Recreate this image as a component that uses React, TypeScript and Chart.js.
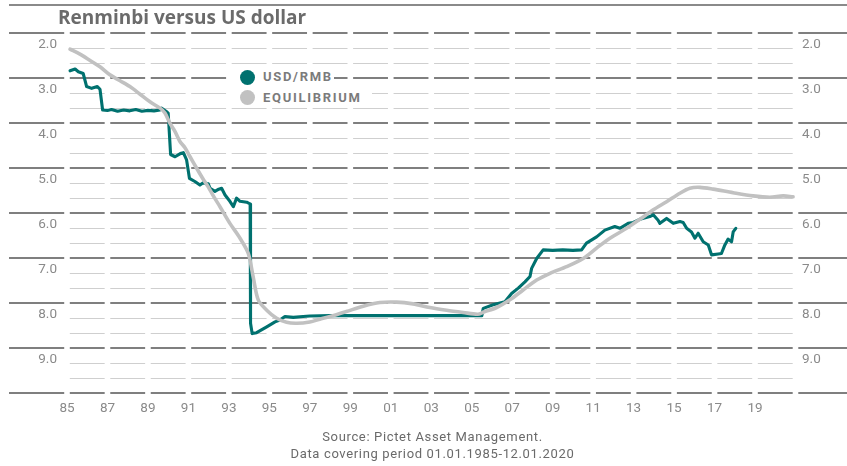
import React, { useEffect, useRef } from "react";
import { Chart, registerables } from "chart.js";

Chart.register(...registerables);

// ---------------- data ----------------
const titleText = "Renminbi versus US dollar";
const seriesNames = ["USD/RMB", "EQUILIBRIUM"];
const sourceLines = [
  "Source: Pictet Asset Management.",
  "Data covering period 01.01.1985-12.01.2020",
];

const xTickYears = [
  1985, 1987, 1989, 1991, 1993, 1995, 1997, 1999, 2001, 2003, 2005, 2007, 2009,
  2011, 2013, 2015, 2017, 2019, 2021,
];
const yTickValues = [2, 3, 4, 5, 6, 7, 8, 9, 10];

const usdRmbYears = [
  1985.15, 1985.4, 1985.56, 1985.8, 1985.97, 1986.22, 1986.5, 1986.63, 1986.76,
  1987.0, 1987.2, 1987.5, 1987.8, 1988.1, 1988.4, 1988.7, 1989.0, 1989.3,
  1989.6, 1989.68, 1989.93, 1990.0, 1990.12, 1990.34, 1990.6, 1990.75, 1990.91,
  1991.05, 1991.32, 1991.57, 1991.73, 1991.98, 1992.07, 1992.31, 1992.5,
  1992.64, 1992.81, 1993.05, 1993.22, 1993.38, 1993.55, 1993.88, 1994.05,
  1994.07, 1994.15, 1994.37, 1994.87, 1995.28, 1995.52, 1995.77, 1996.18,
  1996.67, 1997.0, 1998.0, 1999.0, 2000.0, 2001.0, 2002.0, 2003.0, 2004.0,
  2005.0, 2005.5, 2005.57, 2006.06, 2006.64, 2006.97, 2007.3, 2007.63, 2007.88,
  2007.96, 2008.21, 2008.53, 2009.0, 2009.5, 2010.0, 2010.43, 2010.67, 2011.17,
  2011.58, 2012.07, 2012.32, 2012.73, 2012.98, 2013.31, 2013.8, 2013.97,
  2014.21, 2014.3, 2014.63, 2014.96, 2015.29, 2015.45, 2015.62, 2015.86,
  2016.03, 2016.19, 2016.44, 2016.69, 2016.85, 2017.18, 2017.34, 2017.51,
  2017.67, 2017.84, 2017.92, 2018.05,
];
const usdRmbValues = [
  2.84, 2.8, 2.86, 2.9, 3.19, 3.23, 3.19, 3.25, 3.71,
  3.72, 3.7, 3.74, 3.71, 3.73, 3.7, 3.74, 3.72, 3.73,
  3.71, 3.67, 3.75, 3.78, 4.7, 4.75, 4.68, 4.66, 4.82,
  5.23, 5.3, 5.38, 5.33, 5.35, 5.45, 5.52, 5.47,
  5.45, 5.6, 5.74, 5.86, 5.67, 5.74, 5.76, 5.8,
  8.45, 8.68, 8.66, 8.53, 8.42, 8.38, 8.3, 8.32,
  8.3, 8.29, 8.28, 8.28, 8.28, 8.28, 8.28, 8.28, 8.28,
  8.28, 8.28, 8.12, 8.04, 7.97, 7.79, 7.67, 7.53, 7.41,
  7.23, 7.01, 6.82, 6.83, 6.82, 6.83, 6.82, 6.67, 6.53,
  6.38, 6.3, 6.34, 6.23, 6.21, 6.14, 6.08, 6.04,
  6.16, 6.23, 6.12, 6.23, 6.19, 6.21, 6.34, 6.42,
  6.56, 6.45, 6.64, 6.71, 6.93, 6.91, 6.9, 6.71,
  6.58, 6.64, 6.42, 6.34,
];

const equilibriumYears = [
  1985.15, 1985.64, 1986.14, 1986.63, 1987.12, 1987.62, 1988.11, 1988.61,
  1989.1, 1989.6, 1989.84, 1990.09, 1990.34, 1990.58, 1990.83, 1991.08, 1991.4,
  1991.73, 1991.98, 1992.23, 1992.56, 1993.05, 1993.55, 1993.96, 1994.2,
  1994.45, 1994.87, 1995.36, 1995.85, 1996.35, 1997.0, 1997.5, 1998.0, 1998.8,
  1999.64, 2000.46, 2001.29, 2002.1, 2002.93, 2003.76, 2004.58, 2005.3, 2005.6,
  2006.23, 2006.89, 2007.54, 2008.21, 2008.87, 2009.69, 2010.51, 2011.17,
  2011.83, 2012.65, 2013.31, 2013.97, 2014.63, 2015.29, 2015.78, 2016.28,
  2016.93, 2017.92, 2018.9, 2019.73, 2020.39, 2020.88,
];
const equilibriumValues = [
  2.36, 2.47, 2.61, 2.75, 2.93, 3.06, 3.19, 3.36,
  3.53, 3.67, 3.78, 4.01, 4.19, 4.41, 4.55, 4.75, 5.0,
  5.25, 5.42, 5.62, 5.86, 6.23, 6.56, 6.9, 7.42,
  7.93, 8.16, 8.34, 8.43, 8.45, 8.42, 8.36, 8.3, 8.19,
  8.07, 7.99, 7.98, 8.02, 8.1, 8.16, 8.21, 8.25, 8.2,
  8.1, 7.93, 7.71, 7.49, 7.34, 7.19, 7.01, 6.78,
  6.56, 6.34, 6.14, 5.93, 5.75, 5.56, 5.45, 5.43,
  5.47, 5.55, 5.62, 5.65, 5.62, 5.64,
];

// ---------------- styles ----------------
const TEAL = "#00716f";
const GREY = "#c1c1c1";
const LABEL = "#8a8a8a";
const W = 847;
const H = 466;

const gridPlugin = {
  id: "segmentedGrid",
  beforeDatasetsDraw(chart: any) {
    const { ctx, scales } = chart;
    const xs = scales.x;
    const ys = scales.y;
    const tickPx = xTickYears.map((t) => xs.getPixelForValue(t));
    const gap = 2.8;
    ctx.save();
    // top frame rule
    ctx.strokeStyle = "#8a8a8a";
    ctx.lineWidth = 2;
    ctx.beginPath();
    ctx.moveTo(9, 5);
    ctx.lineTo(chart.width, 5);
    ctx.stroke();
    const vMin = yTickValues[0];
    const vMax = yTickValues[yTickValues.length - 1];
    const steps = Math.round((vMax - vMin) * 3);
    for (let k = 0; k <= steps; k++) {
      const v = vMin + k / 3;
      const major = k % 3 === 0;
      const y = ys.getPixelForValue(v);
      const yy = major ? Math.round(y) : Math.round(y) + 0.5;
      ctx.strokeStyle = major ? "#7f7f7f" : "#cfcfcf";
      ctx.lineWidth = major ? 2 : 1;
      ctx.beginPath();
      for (let i = 0; i < tickPx.length - 1; i++) {
        ctx.moveTo(tickPx[i] + gap, yy);
        ctx.lineTo(tickPx[i + 1] - gap, yy);
      }
      if (major) {
        ctx.moveTo(9, yy);
        ctx.lineTo(tickPx[0] - gap, yy);
        ctx.moveTo(tickPx[tickPx.length - 1] + gap, yy);
        ctx.lineTo(chart.width, yy);
      }
      ctx.stroke();
    }
    ctx.restore();
  },
};

const tickFont = { family: "Roboto, 'Open Sans', sans-serif", size: 13.5 };

function makeYAxis(position: "left" | "right", width: number, padding: number) {
  return {
    type: "linear" as const,
    position,
    reverse: true,
    min: yTickValues[0],
    max: yTickValues[yTickValues.length - 1],
    grid: { display: false, drawTicks: false },
    border: { display: false },
    afterBuildTicks: (s: any) => {
      s.ticks = yTickValues.map((v) => ({ value: v }));
    },
    afterFit: (s: any) => {
      s.width = width;
    },
    ticks: {
      padding,
      labelOffset: 12,
      color: LABEL,
      font: tickFont,
      autoSkip: false,
      callback: (v: any) =>
        Number(v) === yTickValues[yTickValues.length - 1] ? "" : Number(v).toFixed(1),
    },
  };
}

export default function App() {
  const canvasRef = useRef<HTMLCanvasElement | null>(null);

  useEffect(() => {
    if (!canvasRef.current) return;
    const chart = new Chart(canvasRef.current, {
      type: "line",
      data: {
        datasets: [
          {
            label: seriesNames[0],
            data: usdRmbYears.map((x, i) => ({ x, y: usdRmbValues[i] })),
            borderColor: TEAL,
            backgroundColor: TEAL,
            borderWidth: 3.1,
            pointRadius: 0,
            tension: 0,
            borderJoinStyle: "round",
            borderCapStyle: "round",
            order: 1,
          },
          {
            label: seriesNames[1],
            data: equilibriumYears.map((x, i) => ({ x, y: equilibriumValues[i] })),
            borderColor: GREY,
            backgroundColor: GREY,
            borderWidth: 3.6,
            pointRadius: 0,
            tension: 0.3,
            borderJoinStyle: "round",
            borderCapStyle: "round",
            order: 0,
          },
        ],
      },
      options: {
        animation: false,
        responsive: false,
        maintainAspectRatio: false,
        devicePixelRatio: 1,
        layout: { padding: { top: 33, left: 0, right: 0, bottom: 0 } },
        plugins: {
          legend: { display: false },
          tooltip: { enabled: false },
          title: { display: false },
        },
        scales: {
          x: {
            type: "linear",
            position: "bottom",
            min: xTickYears[0],
            max: xTickYears[xTickYears.length - 1],
            grid: { display: false, drawTicks: false },
            border: { display: false },
            afterBuildTicks: (s: any) => {
              s.ticks = xTickYears.map((v) => ({ value: v }));
            },
            afterFit: (s: any) => {
              s.height = 73;
            },
            ticks: {
              autoSkip: false,
              maxRotation: 0,
              padding: 8,
              color: LABEL,
              font: tickFont,
              callback: (v: any) =>
                Number(v) === xTickYears[xTickYears.length - 1]
                  ? ""
                  : String(v).slice(2),
            },
          },
          y: makeYAxis("left", 67, 10),
          y2: makeYAxis("right", 51.5, 6.5),
        },
      } as any,
      plugins: [gridPlugin],
    });
    return () => chart.destroy();
  }, []);

  const legendRow = (color: string, text: string, top: number, bgWidth: number) => (
    <div
      style={{
        position: "absolute",
        left: 229,
        top,
        width: bgWidth,
        height: 18,
        background: "#fff",
        display: "flex",
        alignItems: "center",
      }}
    >
      <span
        style={{
          display: "inline-block",
          width: 15,
          height: 15,
          borderRadius: "50%",
          background: color,
          marginLeft: 11,
        }}
      />
      <span
        style={{
          marginLeft: 8,
          fontFamily: "Roboto, sans-serif",
          fontWeight: 700,
          fontSize: 13,
          letterSpacing: "1.7px",
          color: "#7b7b7b",
          lineHeight: "18px",
        }}
      >
        {text}
      </span>
    </div>
  );

  return (
    <div
      style={{
        position: "absolute",
        left: 0,
        top: 0,
        width: W,
        height: H,
        background: "#fff",
        overflow: "hidden",
      }}
    >
      <canvas
        ref={canvasRef}
        width={W}
        height={H}
        style={{ position: "absolute", left: 0, top: 0, width: W, height: H }}
      />
      <div
        style={{
          position: "absolute",
          left: 58,
          top: 8,
          fontFamily: "'Open Sans', sans-serif",
          fontWeight: 700,
          fontSize: 19,
          lineHeight: "19px",
          color: "#6b6b6b",
          whiteSpace: "nowrap",
        }}
      >
        {titleText}
      </div>
      {legendRow(TEAL, seriesNames[0], 68, 105)}
      {legendRow(GREY, seriesNames[1], 88.5, 143)}
      <div
        style={{
          position: "absolute",
          left: 9,
          top: 429,
          width: W,
          textAlign: "center",
          fontFamily: "Roboto, sans-serif",
          fontSize: 13,
          lineHeight: "16.5px",
          letterSpacing: "0.65px",
          color: "#6a6a6a",
        }}
      >
        <div>{sourceLines[0]}</div>
        <div>{sourceLines[1]}</div>
      </div>
    </div>
  );
}
